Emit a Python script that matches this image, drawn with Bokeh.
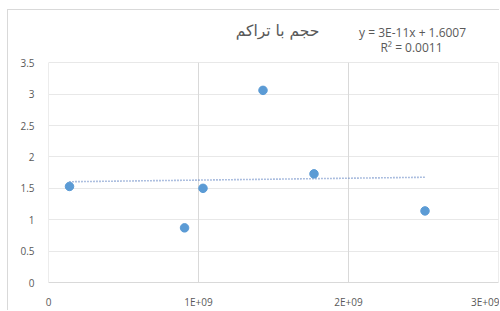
from bokeh.plotting import figure
from bokeh.models import Range1d, FixedTicker, CustomJSTickFormatter, Label
from bokeh.embed import file_html
from bokeh.resources import INLINE

# data
x_vals = [0.14e9, 0.907e9, 1.03e9, 1.43e9, 1.77e9, 2.51e9]
y_vals = [1.53, 0.87, 1.50, 3.06, 1.73, 1.14]
slope = 3e-11
intercept = 1.6007
r2 = 0.0011
title_text = "حجم با تراکم"
x_ticks = [0, 1e9, 2e9, 3e9]
y_ticks = [0, 0.5, 1, 1.5, 2, 2.5, 3, 3.5]

p = figure(width=492, height=301, output_backend="svg", toolbar_location=None,
           x_range=Range1d(0, 3e9), y_range=Range1d(0, 4.3),
           min_border_left=40, min_border_right=2, min_border_top=2, min_border_bottom=20,
           styles={"margin-left": "7px", "margin-top": "9px",
                   "border-left": "1px solid #d9d9d9", "border-top": "1px solid #d9d9d9"})
p.outline_line_color = None
p.background_fill_color = "white"
p.border_fill_color = "white"

grey = "#595959"
for ax in (p.xaxis[0], p.yaxis[0]):
    ax.major_tick_line_color = None
    ax.minor_tick_line_color = None
    ax.major_label_text_color = grey
    ax.major_label_text_font = "Open Sans"
    ax.major_label_text_font_size = "10px"
    ax.axis_line_color = "#d9d9d9"
p.yaxis[0].axis_line_color = "#ececec"
p.yaxis[0].bounds = (y_ticks[0], y_ticks[-1])
p.xaxis[0].ticker = FixedTicker(ticks=x_ticks)
p.yaxis[0].ticker = FixedTicker(ticks=y_ticks)
p.xaxis[0].formatter = CustomJSTickFormatter(code="return tick==0 ? '0' : (tick/1e9).toFixed(0) + 'E+09';")
p.yaxis[0].formatter = CustomJSTickFormatter(code="return tick.toString();")
p.xaxis[0].major_label_standoff = 6
p.yaxis[0].major_label_standoff = 8

p.xgrid[0].visible = False
p.ygrid[0].grid_line_color = "#e8e8e8"
gx = x_ticks[1:]
p.segment(x0=gx, y0=[y_ticks[0]] * len(gx), x1=gx, y1=[y_ticks[-1]] * len(gx),
          line_color="#d9d9d9", line_width=1)

tx = [min(x_vals), max(x_vals)]
ty = [slope * v + intercept for v in tx]
p.line(tx, ty, line_color="#5b7fc0", line_width=1.6, line_dash="1 2")
p.scatter(x_vals, y_vals, size=8.5, fill_color="#5b9bd5", line_color="#5b9bd5")

p.add_layout(Label(x=1.527e9, y=4.0, text=title_text, text_align="center", text_baseline="middle",
                   text_font="DejaVu Sans", text_font_size="15.5px", text_color=grey))
p.add_layout(Label(x=2.427e9, y=3.985, text="y = 3E-11x + 1.6007", text_align="center",
                   text_baseline="middle", text_font="Open Sans", text_font_size="12px", text_color=grey))
p.add_layout(Label(x=2.42e9, y=3.735, text="R² = " + str(r2), text_align="center",
                   text_baseline="middle", text_font="Open Sans", text_font_size="12px", text_color=grey))

open("out.html", "w").write(file_html(p, INLINE))
